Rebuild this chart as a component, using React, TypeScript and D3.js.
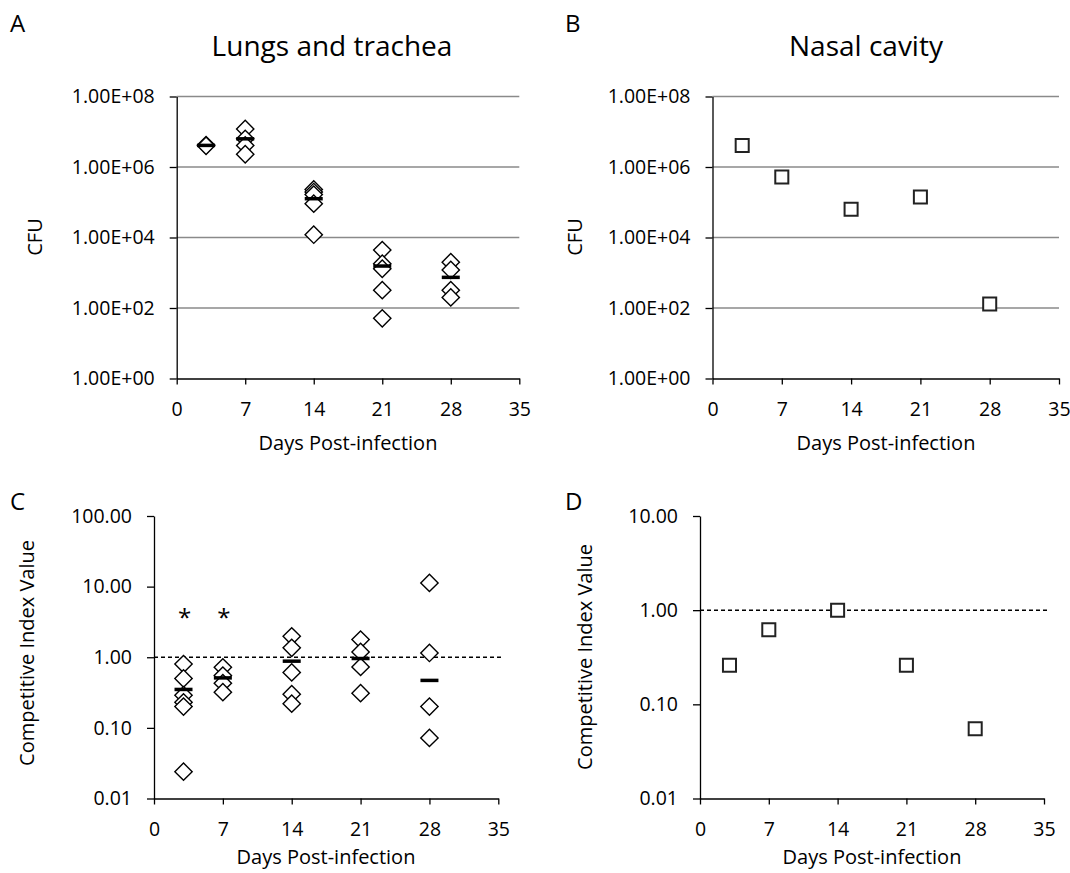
import React, { useEffect, useRef } from "react";
import * as d3 from "d3";

// sampling days and axis ticks
const days = [3, 7, 14, 21, 28];
const xTicks = [0, 7, 14, 21, 28, 35];

// A - lungs and trachea, CFU per animal
const lungCfu = [
  [4.2e6, 4.0e6],
  [1.2e7, 6.3e6, 4.1e6, 2.3e6],
  [2.3e5, 1.95e5, 1.65e5, 9.1e4, 1.2e4],
  [4.4e3, 1.8e3, 1.3e3, 3.2e2, 51],
  [2.0e3, 1.2e3, 3.2e2, 2.0e2],
];
const lungCfuMean = [4.1e6, 6.3e6, 1.26e5, 1.55e3, 7.4e2];

// B - nasal cavity, pooled CFU
const nasalCfu = [4.1e6, 5.2e5, 6.3e4, 1.4e5, 1.3e2];

// C - lungs and trachea, competitive index per animal
const lungCi = [
  [0.8, 0.5, 0.29, 0.23, 0.2, 0.024],
  [0.72, 0.55, 0.43, 0.32],
  [1.98, 1.36, 0.61, 0.3, 0.22],
  [1.78, 1.19, 0.73, 0.31],
  [11.3, 1.15, 0.2, 0.072],
];
const lungCiMean = [0.35, 0.51, 0.88, 0.96, 0.47];
const starDays = [3, 7];
const starValues = [4.2, 4.2];

// D - nasal cavity, competitive index
const nasalCi = [0.26, 0.62, 1.0, 0.26, 0.055];

const cfuTicks = [1, 1e2, 1e4, 1e6, 1e8];
const cfuTickLabels = ["1.00E+00", "1.00E+02", "1.00E+04", "1.00E+06", "1.00E+08"];
const ciTicksC = [0.01, 0.1, 1, 10, 100];
const ciTicksD = [0.01, 0.1, 1, 10];

const FONT = "'Open Sans', sans-serif";

type Panel = {
  letter: string; lx: number; ly: number;
  title?: string; tx?: number;
  x0: number; x1: number; yTop: number; yBottom: number;
  yDomain: [number, number]; yTicks: number[]; yFmt: (d: number) => string;
  grid: boolean; refLine: boolean;
  yLabel: string; ylx: number; yly: number;
  xtx: number; xty: number;
};

const cfuFmt = (d: number) => cfuTickLabels[cfuTicks.indexOf(d)];
const ciFmt = d3.format(".2f");

const panels: Panel[] = [
  { letter: "A", lx: 10, ly: 32, title: "Lungs and trachea", tx: 332,
    x0: 176.7, x1: 519.3, yTop: 96.5, yBottom: 378.5, yDomain: [1, 1e8], yTicks: cfuTicks, yFmt: cfuFmt,
    grid: true, refLine: false, yLabel: "CFU", ylx: 35, yly: 237, xtx: 348, xty: 450 },
  { letter: "B", lx: 565, ly: 32, title: "Nasal cavity", tx: 866,
    x0: 712.5, x1: 1059, yTop: 96.5, yBottom: 378.5, yDomain: [1, 1e8], yTicks: cfuTicks, yFmt: cfuFmt,
    grid: true, refLine: false, yLabel: "CFU", ylx: 575, yly: 237, xtx: 886, xty: 450 },
  { letter: "C", lx: 10, ly: 510,
    x0: 154, x1: 498.3, yTop: 516, yBottom: 798.5, yDomain: [0.01, 100], yTicks: ciTicksC, yFmt: ciFmt,
    grid: false, refLine: true, yLabel: "Competitive Index Value", ylx: 27, yly: 653, xtx: 326, xty: 864 },
  { letter: "D", lx: 565, ly: 510,
    x0: 700, x1: 1044, yTop: 516, yBottom: 798.5, yDomain: [0.01, 10], yTicks: ciTicksD, yFmt: ciFmt,
    grid: false, refLine: true, yLabel: "Competitive Index Value", ylx: 585, yly: 657, xtx: 872, xty: 864 },
];

const App = () => {
  const ref = useRef<SVGSVGElement>(null);

  useEffect(() => {
    const svg = d3.select(ref.current);
    svg.selectAll("*").remove();

    const scales = panels.map((p) => {
      const x = d3.scaleLinear().domain([0, 35]).range([p.x0, p.x1]);
      const y = d3.scaleLog().domain(p.yDomain).range([p.yBottom, p.yTop]);
      const g = svg.append("g");

      // panel letter and title
      g.append("text").attr("x", p.lx).attr("y", p.ly).attr("font-size", 24).text(p.letter);
      if (p.title)
        g.append("text").attr("x", p.tx!).attr("y", 56).attr("font-size", 28)
          .attr("text-anchor", "middle").text(p.title);

      // gridlines
      if (p.grid)
        g.selectAll(".grid")
          .data(p.yTicks.filter((t) => t > p.yDomain[0]))
          .join("line")
          .attr("x1", p.x0).attr("x2", p.x1)
          .attr("y1", (d) => y(d)).attr("y2", (d) => y(d))
          .attr("stroke", "#8a8a8a").attr("stroke-width", 1.4);

      // axes
      const ya = g.append("g").attr("transform", `translate(${p.x0},0)`)
        .call(d3.axisLeft(y).tickValues(p.yTicks).tickFormat(p.yFmt as any)
          .tickSize(7).tickSizeOuter(0).tickPadding(15));
      const xa = g.append("g").attr("transform", `translate(0,${p.yBottom})`)
        .call(d3.axisBottom(x).tickValues(xTicks).tickSize(6).tickSizeOuter(0).tickPadding(18));
      [ya, xa].forEach((a) => {
        a.attr("font-family", FONT).attr("font-size", 19.5);
        a.selectAll("path, line").attr("stroke", "#000").attr("stroke-width", 1.3);
        a.selectAll("text").attr("fill", "#000");
      });

      // axis titles
      g.append("text").attr("x", p.xtx).attr("y", p.xty).attr("font-size", 20)
        .attr("text-anchor", "middle").text("Days Post-infection");
      g.append("text")
        .attr("transform", `translate(${p.ylx},${p.yly}) rotate(-90)`)
        .attr("dy", "0.35em").attr("font-size", 20).attr("text-anchor", "middle")
        .text(p.yLabel);

      if (p.refLine)
        g.append("line").attr("x1", p.x0).attr("x2", p.x1 + 3)
          .attr("y1", y(1)).attr("y2", y(1))
          .attr("stroke", "#000").attr("stroke-width", 1.5).attr("stroke-dasharray", "4,3");

      return { g, x, y };
    });

    const diamond = d3.symbol(d3.symbolSquare, 150)();
    const square = d3.symbol(d3.symbolSquare, 170)();

    const drawScatter = (
      s: { g: any; x: d3.ScaleLinear<number, number>; y: d3.ScaleLogarithmic<number, number> },
      groups: number[][], means: number[]
    ) => {
      const pts = groups.flatMap((vals, i) => vals.map((v) => ({ day: days[i], v })));
      s.g.selectAll(".pt").data(pts).join("path")
        .attr("d", diamond)
        .attr("transform", (d: any) => `translate(${s.x(d.day)},${s.y(d.v)}) rotate(45)`)
        .attr("fill", "#fff").attr("stroke", "#000").attr("stroke-width", 1.4);
      s.g.selectAll(".mean").data(means).join("line")
        .attr("x1", (_: number, i: number) => s.x(days[i]) - 9)
        .attr("x2", (_: number, i: number) => s.x(days[i]) + 9)
        .attr("y1", (d: number) => s.y(d)).attr("y2", (d: number) => s.y(d))
        .attr("stroke", "#000").attr("stroke-width", 3.5);
    };

    const drawSquares = (
      s: { g: any; x: d3.ScaleLinear<number, number>; y: d3.ScaleLogarithmic<number, number> },
      vals: number[]
    ) => {
      s.g.selectAll(".sq").data(vals).join("path")
        .attr("d", square)
        .attr("transform", (d: number, i: number) => `translate(${s.x(days[i])},${s.y(d)})`)
        .attr("fill", "#fff").attr("stroke", "#222").attr("stroke-width", 2);
    };

    drawScatter(scales[0], lungCfu, lungCfuMean);
    drawSquares(scales[1], nasalCfu);
    drawScatter(scales[2], lungCi, lungCiMean);
    drawSquares(scales[3], nasalCi);

    // significance stars
    scales[2].g.selectAll(".star").data(starDays).join("text")
      .attr("x", (d: number) => scales[2].x(d) + 1)
      .attr("y", (_: number, i: number) => scales[2].y(starValues[i]) + 13)
      .attr("text-anchor", "middle").attr("font-size", 24).text("*");
  }, []);

  return (
    <svg
      ref={ref}
      width={1070}
      height={873}
      style={{ position: "absolute", left: 0, top: 0, background: "#fff" }}
      fontFamily={FONT}
    />
  );
};

export default App;
